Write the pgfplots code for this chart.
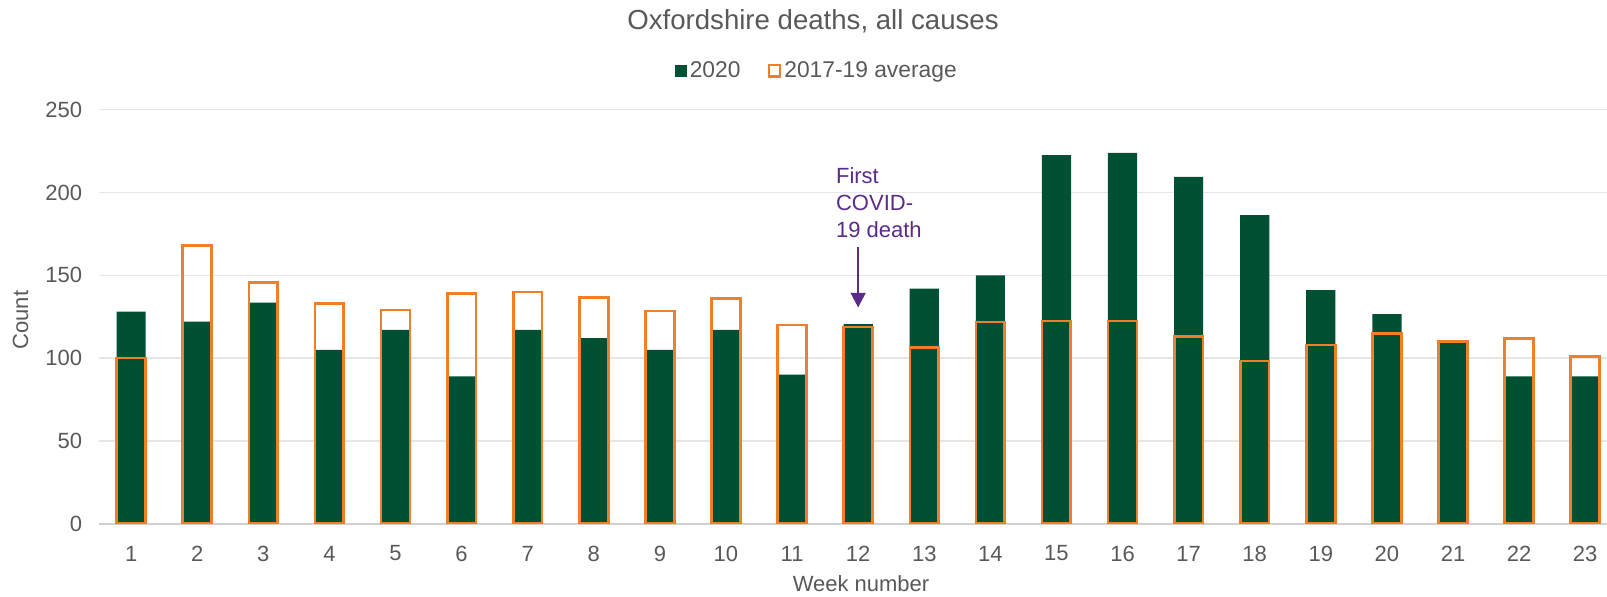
\documentclass[border=0pt]{standalone}
\usepackage{fontspec}
\setmainfont{Liberation Sans}
\usepackage{pgfplots}
\pgfplotsset{compat=1.18}
\usetikzlibrary{arrows.meta}
\definecolor{dgreen}{HTML}{005034}
\definecolor{dorange}{HTML}{F07F2A}
\definecolor{cpurple}{HTML}{5C2A88}
\definecolor{textgrey}{HTML}{595959}
\definecolor{gridgrey}{HTML}{E6E6E6}
\definecolor{axisgrey}{HTML}{D0D0D0}
\begin{document}
\begin{tikzpicture}
\useasboundingbox (-49.7pt,-36.15pt) rectangle (753.8pt,261.85pt);
\begin{axis}[
  at={(0pt,0pt)}, anchor=south west,
  scale only axis, width=753.8pt, height=207pt,
  xmin=0.52, xmax=23.33, ymin=0, ymax=250,
  xtick={1,...,23}, ytick={0,50,...,250},
  axis line style={draw=none},
  major tick length=0pt,
  ymajorgrids, grid style={color=gridgrey, line width=0.7pt},
  extra y ticks={0}, extra y tick labels={},
  extra y tick style={grid style={color=axisgrey, line width=1.1pt}},
  /pgf/number format/assume math mode=true,
  tick label style={font=\fontsize{11}{13}\selectfont, text=textgrey},
  xticklabel style={anchor=center, yshift=-14.9pt},
  yticklabel style={anchor=east, inner sep=0pt, xshift=-8.5pt},
  xlabel={Week number}, ylabel={Count},
  label style={font=\fontsize{11}{13}\selectfont, text=textgrey},
  xlabel style={at={(axis description cs:0.5052,-0.1457)}, anchor=center},
  ylabel style={at={(axis description cs:-0.0523,0.492)}, anchor=center},
  legend columns=2,
  legend style={at={(axis description cs:0.4763,1.0942)}, anchor=center, draw=none, fill=none,
    font=\fontsize{11.4}{13}\selectfont, text=textgrey,
    /tikz/every even column/.append style={column sep=12pt},
    nodes={inner sep=1.5pt}},
]
\addplot[ybar, bar width=14.6pt, bar shift=0pt, fill=dgreen, draw=none,
  legend image code/.code={\fill[dgreen] (0pt,-2.9pt) rectangle (5.8pt,2.9pt);}]
coordinates {(1,128) (2,122) (3,133.5) (4,105) (5,117) (6,89) (7,117) (8,112) (9,105) (10,117) (11,90) (12,120.5) (13,142) (14,150) (15,222.5) (16,224) (17,209.5) (18,186.3) (19,141) (20,126.6) (21,109.5) (22,89) (23,89)};
\addlegendentry{2020}
\addplot[ybar, bar width=14.4pt, bar shift=0pt, draw=dorange, line width=1.35pt, fill=none,
  legend image code/.code={\draw[dorange, line width=1.3pt, fill=white] (0.6pt,-2.8pt) rectangle (6.2pt,2.8pt);}]
coordinates {(1,100) (2,168) (3,145.5) (4,133) (5,129) (6,139) (7,140) (8,136.7) (9,128.4) (10,136) (11,120) (12,118.7) (13,106.6) (14,121.8) (15,122.4) (16,122.4) (17,112.9) (18,98.2) (19,108) (20,114.7) (21,110) (22,111.7) (23,101)};
\addlegendentry{2017-19 average}
\node[anchor=west, align=left, inner sep=0pt, text=cpurple, font=\fontsize{11}{13.35}\selectfont] at (axis cs:11.66,194) {First\\COVID-\\19 death};
\draw[cpurple, line width=0.7pt, -{Triangle[width=7.5pt,length=7.3pt]}] (axis cs:12,167.3) -- (axis cs:12,130.6);
\end{axis}
\node[font=\fontsize{13.8}{16}\selectfont, text=textgrey] at (356.8pt,251.35pt) {Oxfordshire deaths, all causes};
\end{tikzpicture}
\end{document}
